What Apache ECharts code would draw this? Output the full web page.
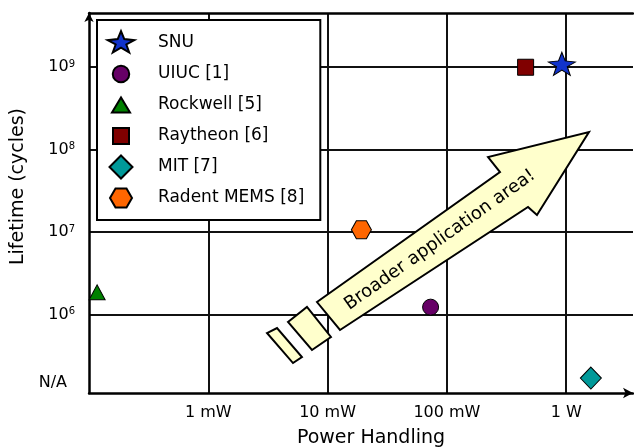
<!DOCTYPE html>
<html><head><meta charset="utf-8">
<script src="https://cdn.jsdelivr.net/npm/echarts@6/dist/echarts.min.js"></script>
<style>html,body{margin:0;padding:0;background:#fff}#c{width:634px;height:447px}</style>
</head><body><div id="c"></div>
<script>
// ---- data ----
const seriesNames = ['SNU', 'UIUC [1]', 'Rockwell [5]', 'Raytheon [6]', 'MIT [7]', 'Radent MEMS [8]'];
const powerMW = [920, 73, 0.117, 457, 1610, 19.2];            // power handling, mW
const lifetimeCycles = [1.1e9, 1.23e6, 1.86e6, 1.0e9, null, 1.07e7]; // null = N/A
const seriesColors = ['#1133CC', '#660066', '#008000', '#800000', '#009999', '#FF6600'];
const xTickValues = [0, 1, 2, 3];                 // log10(mW)
const xTickLabels = ['1 mW', '10 mW', '100 mW', '1 W'];
const yTickValues = [6, 7, 8, 9];                 // log10(cycles)
const naRow = 5.23;                               // position of the "N/A" row
const naLabel = 'N/A';
const arrowText = 'Broader application area!';
// arrow annotation outline, in (log10 mW, log10 cycles)
const arrowBody = [[0.911, 6.152], [2.445, 7.729], [2.345, 7.911], [3.191, 8.215], [2.755, 7.208], [2.680, 7.305], [1.104, 5.813]];
const arrowSlice1 = [[0.668, 5.910], [0.827, 6.092], [1.028, 5.728], [0.869, 5.570]];
const arrowSlice2 = [[0.492, 5.776], [0.576, 5.837], [0.785, 5.485], [0.710, 5.412]];
const arrowTextPos = [1.942, 6.904];

// ---- symbols ----
const starPath = 'M14,2.1L17.29,10.05L27.32,11.22L19.33,15.47L22.23,23.53L14,18.66L5.77,23.53L8.67,15.47L0.68,11.22L10.71,10.05Z';
const hexPath = 'M3,14L8.5,4.5L19.5,4.5L25,14L19.5,23.5L8.5,23.5Z';
const frame = 'M0,0M28,28';
const plotSymbols = ['path://' + starPath, 'circle', 'triangle', 'rect', 'diamond', 'path://' + hexPath];
const plotSizes = [[27, 23], 16, [16, 15], 16, [21, 22], [20, 18]];
const legendIcons = [
  'path://' + frame + starPath,
  'path://' + frame + 'M5.75,14A8.25,8.25,0,1,1,22.25,14A8.25,8.25,0,1,1,5.75,14Z',
  'path://' + frame + 'M5,21.5L14,6.5L23,21.5Z',
  'path://' + frame + 'M6,6L22,6L22,22L6,22Z',
  'path://' + frame + 'M14,2.5L25.5,14L14,25.5L2.5,14Z',
  'path://' + frame + hexPath
];

const FONT = '"DejaVu Sans", Verdana, sans-serif';
const X_MIN = -1, X_MAX = 3.56, Y_MIN = 5.0485, Y_MAX = 9.658;

const chart = echarts.init(document.getElementById('c'), null, {renderer: 'canvas'});

const scatterSeries = seriesNames.map((name, i) => ({
  type: 'scatter',
  name: name,
  data: [[Math.log10(powerMW[i]), lifetimeCycles[i] == null ? naRow : Math.log10(lifetimeCycles[i])]],
  symbol: plotSymbols[i],
  symbolSize: plotSizes[i],
  symbolKeepAspect: false,
  itemStyle: {color: seriesColors[i], borderColor: '#000', borderWidth: 1, opacity: 1},
  emphasis: {disabled: true},
  z: 5
}));

const arrowSeries = {
  type: 'custom',
  name: 'arrow',
  silent: true,
  clip: false,
  z: 3,
  data: [arrowTextPos],
  encode: {x: 0, y: 1},
  renderItem: function (params, api) {
    const pts = arr => arr.map(p => api.coord(p));
    const a = api.coord(arrowBody[0]);
    const b = api.coord(arrowBody[1]);
    const ang = Math.atan2(-(b[1] - a[1]), b[0] - a[0]);
    const c = api.coord(arrowTextPos);
    const st = {fill: '#FFFFCC', stroke: '#000', lineWidth: 2};
    return {
      type: 'group',
      children: [
        {type: 'polygon', shape: {points: pts(arrowBody)}, style: st},
        {type: 'polygon', shape: {points: pts(arrowSlice1)}, style: st},
        {type: 'polygon', shape: {points: pts(arrowSlice2)}, style: st},
        {type: 'text', x: c[0], y: c[1], rotation: ang,
         style: {text: arrowText, align: 'center', verticalAlign: 'middle',
                 font: '18px ' + FONT, fill: '#000'}}
      ]
    };
  }
};

chart.setOption({
  animation: false,
  backgroundColor: '#fff',
  textStyle: {fontFamily: FONT},
  grid: {left: 89, right: 1, top: 13, bottom: 54, containLabel: false, outerBoundsMode: 'none'},
  xAxis: [{
    type: 'value', min: X_MIN, max: X_MAX,
    name: 'Power Handling', nameLocation: 'middle', nameGap: 36,
    nameTextStyle: {fontSize: 19, color: '#000', fontFamily: FONT, padding: [0, 0, 0, 20]},
    axisLine: {show: true, onZero: false, lineStyle: {color: '#000', width: 2.5}, symbol: ['none', 'arrow'], symbolSize: [8, 10]},
    axisTick: {show: false, customValues: xTickValues},
    axisLabel: {
      customValues: xTickValues, margin: 12, fontSize: 16, color: '#000', fontFamily: FONT,
      formatter: v => { const i = xTickValues.indexOf(Math.round(v)); return i >= 0 ? xTickLabels[i] : ''; }
    },
    splitLine: {show: true, lineStyle: {color: '#111', width: 2}}
  }, {
    type: 'value', position: 'top', min: X_MIN, max: X_MAX,
    axisLine: {show: true, onZero: false, lineStyle: {color: '#000', width: 2.5}},
    axisTick: {show: false}, axisLabel: {show: false}, splitLine: {show: false}
  }],
  yAxis: [{
    type: 'value', min: Y_MIN, max: Y_MAX,
    name: 'Lifetime (cycles)', nameLocation: 'middle', nameGap: 60,
    nameTextStyle: {fontSize: 19, color: '#000', fontFamily: FONT, padding: [0, 0, 0, 33]},
    axisLine: {show: true, onZero: false, lineStyle: {color: '#000', width: 2.5}, symbol: ['none', 'arrow'], symbolSize: [7, 9]},
    axisTick: {show: false, customValues: yTickValues},
    axisLabel: {
      customValues: [naRow].concat(yTickValues), margin: 14, color: '#000',
      formatter: v => Math.abs(v - naRow) < 1e-6 ? '{na|' + naLabel + '}' : '{b|10}{s|' + Math.round(v) + '}',
      rich: {
        b: {fontSize: 16, fontFamily: FONT, color: '#000'},
        s: {fontSize: 10, fontFamily: FONT, color: '#000', verticalAlign: 'top'},
        na: {fontSize: 16, fontFamily: FONT, color: '#000', padding: [9, 8, 0, 0]}
      }
    },
    splitLine: {show: true, lineStyle: {color: '#111', width: 2}}
  }],
  legend: {
    orient: 'vertical', left: 97, top: 20,
    padding: [8, 16, 7, 9],
    itemWidth: 28, itemHeight: 28, itemGap: 1,
    backgroundColor: '#fff', borderColor: '#000', borderWidth: 2,
    selectedMode: false,
    textStyle: {fontSize: 17, color: '#000', fontFamily: FONT, padding: [0, 0, 0, 18]},
    data: seriesNames.map((n, i) => ({name: n, icon: legendIcons[i]}))
  },
  series: [arrowSeries].concat(scatterSeries)
});
</script>
</body></html>
